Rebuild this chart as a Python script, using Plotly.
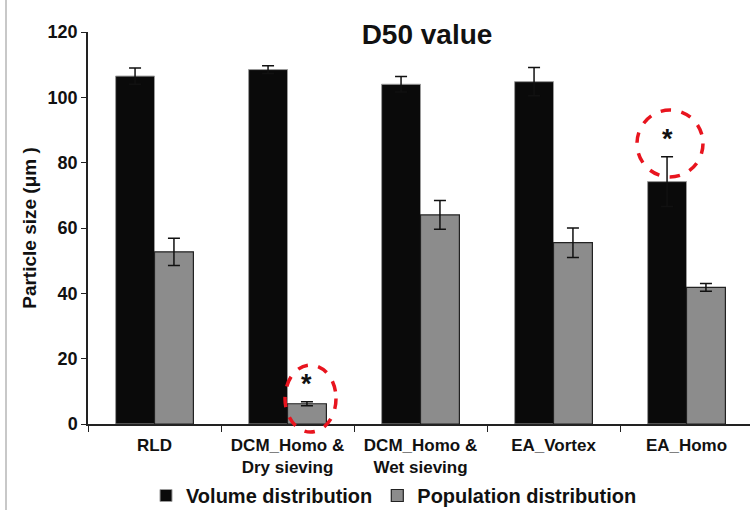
import plotly.graph_objects as go

categories = ["RLD", "DCM_Homo &<br>Dry sieving", "DCM_Homo &<br>Wet sieving", "EA_Vortex", "EA_Homo"]
volume = [106.5, 108.5, 104.0, 104.8, 74.2]
volume_err = [2.5, 1.2, 2.4, 4.3, 7.6]
population = [52.7, 6.2, 64.0, 55.5, 41.8]
population_err = [4.2, 0.6, 4.4, 4.5, 1.2]
y_ticks = [0, 20, 40, 60, 80, 100, 120]

W, H = 750, 523
L, R, T, B = 88, 0, 32, 99
PW, PH = W - L - R, H - T - B
YMAX = 120

def px_x(px):
    return (px - L) / PW

def px_y(py):
    return (H - B - py) / PH

FONT = "Liberation Sans, Arial, sans-serif"

fig = go.Figure()
fig.add_trace(go.Bar(
    x=categories, y=volume, name="Volume distribution",
    marker=dict(color="#0a0a0a", line=dict(color="#9a9a9a", width=1)),
    error_y=dict(type="data", array=volume_err, color="#111", thickness=1.5, width=6),
))
fig.add_trace(go.Bar(
    x=categories, y=population, name="Population distribution",
    marker=dict(color="#8c8c8c", line=dict(color="#222", width=1.2)),
    error_y=dict(type="data", array=population_err, color="#111", thickness=1.5, width=6),
))

# significance markers
bw = 0.29
stars = [(1 + bw / 2, population[1] + population_err[1]), (4 - bw / 2, volume[4] + volume_err[4])]
for sx, sy in stars:
    fig.add_annotation(x=sx, y=sy, xref="x", yref="y", text="<b>*</b>", showarrow=False,
                       yanchor="bottom", yshift=1, font=dict(size=27, color="#111", family=FONT))

# dashed red circles (paper coordinates derived from layout pixels)
circles = [(285, 365, 336, 432), (637, 110, 703, 177)]
for x0, y0, x1, y1 in circles:
    fig.add_shape(type="circle", xref="paper", yref="paper",
                  x0=px_x(x0), x1=px_x(x1), y0=px_y(y1), y1=px_y(y0),
                  line=dict(color="#e8141e", width=3.5, dash="dash"))

# left grey border line
fig.add_shape(type="line", xref="paper", yref="paper",
              x0=px_x(6), x1=px_x(6), y0=px_y(510), y1=px_y(0),
              line=dict(color="#c8c8c8", width=2))

fig.update_layout(
    width=W, height=H,
    margin=dict(l=L, r=R, t=T, b=B, pad=0),
    paper_bgcolor="white", plot_bgcolor="white",
    barmode="group", bargap=0.415, bargroupgap=0,
    font=dict(family=FONT, color="#111", size=14),
    title=dict(text="<b>D50 value</b>", x=427 / W, xanchor="center", y=1 - 34 / H, yanchor="middle",
               xref="container", yref="container", font=dict(size=28, family=FONT, color="#111")),
    showlegend=True,
    legend=dict(orientation="h", x=px_x(146), xanchor="left", y=px_y(476), yanchor="top",
                font=dict(size=20, family=FONT, color="#111", weight="bold"),
                itemwidth=30, tracegroupgap=0, bgcolor="rgba(0,0,0,0)"),
)
fig.update_xaxes(
    range=[-0.5, 4.5 + (750 - 753) / 133], showline=True, linecolor="#222", linewidth=1.5,
    ticks="outside", tickson="boundaries", ticklen=6, tickcolor="#222", ticklabelstandoff=5,
    tickfont=dict(size=17, family=FONT, color="#111", weight="bold"), showgrid=False,
)
fig.update_yaxes(
    range=[0, YMAX], tickvals=y_ticks, showline=True, linecolor="#222", linewidth=1.5,
    ticks="outside", ticklen=5, tickcolor="#222", showgrid=False, zeroline=False,
    tickfont=dict(size=18, family=FONT, color="#111", weight="bold"),
    title=dict(text="<b>Particle size (μm )</b>", font=dict(size=19, family=FONT, color="#111"), standoff=6),
)

fig.write_html("out.html")
